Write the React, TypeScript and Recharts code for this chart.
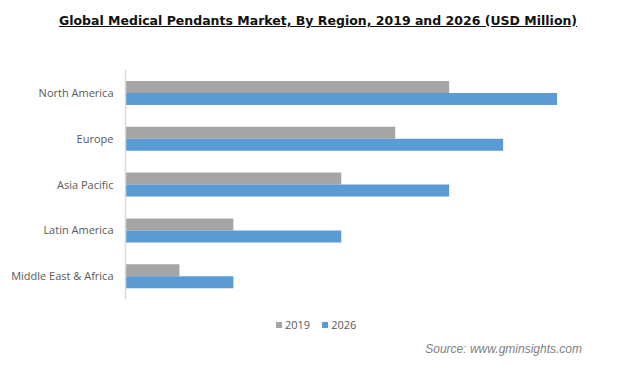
import React from "react";
import { Bar, BarChart, XAxis, YAxis } from "recharts";

const regions = ["North America", "Europe", "Asia Pacific", "Latin America", "Middle East & Africa"];
const values2019 = [6, 5, 4, 2, 1];
const values2026 = [8, 7, 6, 4, 2];
const seriesNames = ["2019", "2026"];
const seriesColors = ["#a5a5a5", "#5b9bd5"];

const data = regions.map((region, i) => ({
  region,
  y2019: values2019[i],
  y2026: values2026[i],
}));

const labelFont = "'Open Sans', 'DejaVu Sans', sans-serif";

function RegionTick({ x, y, payload }: { x?: number; y?: number; payload?: { value: string } }) {
  return (
    <text
      x={(x ?? 0) - 1}
      y={y}
      dy={4}
      textAnchor="end"
      fill="#595959"
      fontSize={11}
      fontFamily={labelFont}
    >
      {payload?.value}
    </text>
  );
}

export default function App() {
  return (
    <div
      style={{
        position: "absolute",
        left: 0,
        top: 0,
        width: 626,
        height: 372,
        background: "#fff",
        overflow: "hidden",
      }}
    >
      <div
        style={{
          position: "absolute",
          top: 13,
          left: 0,
          width: 636,
          textAlign: "center",
          fontFamily: "'DejaVu Sans', sans-serif",
          fontWeight: "bold",
          fontSize: 12.5,
          color: "#111",
          textDecoration: "underline",
        }}
      >
        Global Medical Pendants Market, By Region, 2019 and 2026 (USD Million)
      </div>
      <BarChart
        width={626}
        height={372}
        data={data}
        layout="vertical"
        margin={{ top: 70, right: 15, bottom: 73, left: 0 }}
        barCategoryGap={11}
        barGap={0}
      >
        <XAxis type="number" domain={[0, 9]} hide />
        <YAxis
          type="category"
          dataKey="region"
          width={125.5}
          axisLine={{ stroke: "#d9d9d9", strokeWidth: 1.5 }}
          tickLine={false}
          tickSize={9}
          tick={<RegionTick />}
        />
        <Bar dataKey="y2019" fill={seriesColors[0]} isAnimationActive={false} />
        <Bar dataKey="y2026" fill={seriesColors[1]} isAnimationActive={false} />
      </BarChart>
      <div
        style={{
          position: "absolute",
          top: 317,
          left: 276,
          display: "flex",
          gap: 12,
          fontFamily: labelFont,
          fontSize: 11,
          color: "#595959",
        }}
      >
        {seriesNames.map((name, i) => (
          <div key={name} style={{ display: "flex", alignItems: "center", gap: 3 }}>
            <span style={{ width: 6, height: 6, background: seriesColors[i], display: "inline-block" }} />
            <span>{name}</span>
          </div>
        ))}
      </div>
      <div
        style={{
          position: "absolute",
          top: 342,
          right: 44,
          fontFamily: "'Liberation Sans', Arial, sans-serif",
          fontStyle: "italic",
          fontSize: 12,
          color: "#7f7f7f",
        }}
      >
        Source: www.gminsights.com
      </div>
    </div>
  );
}
